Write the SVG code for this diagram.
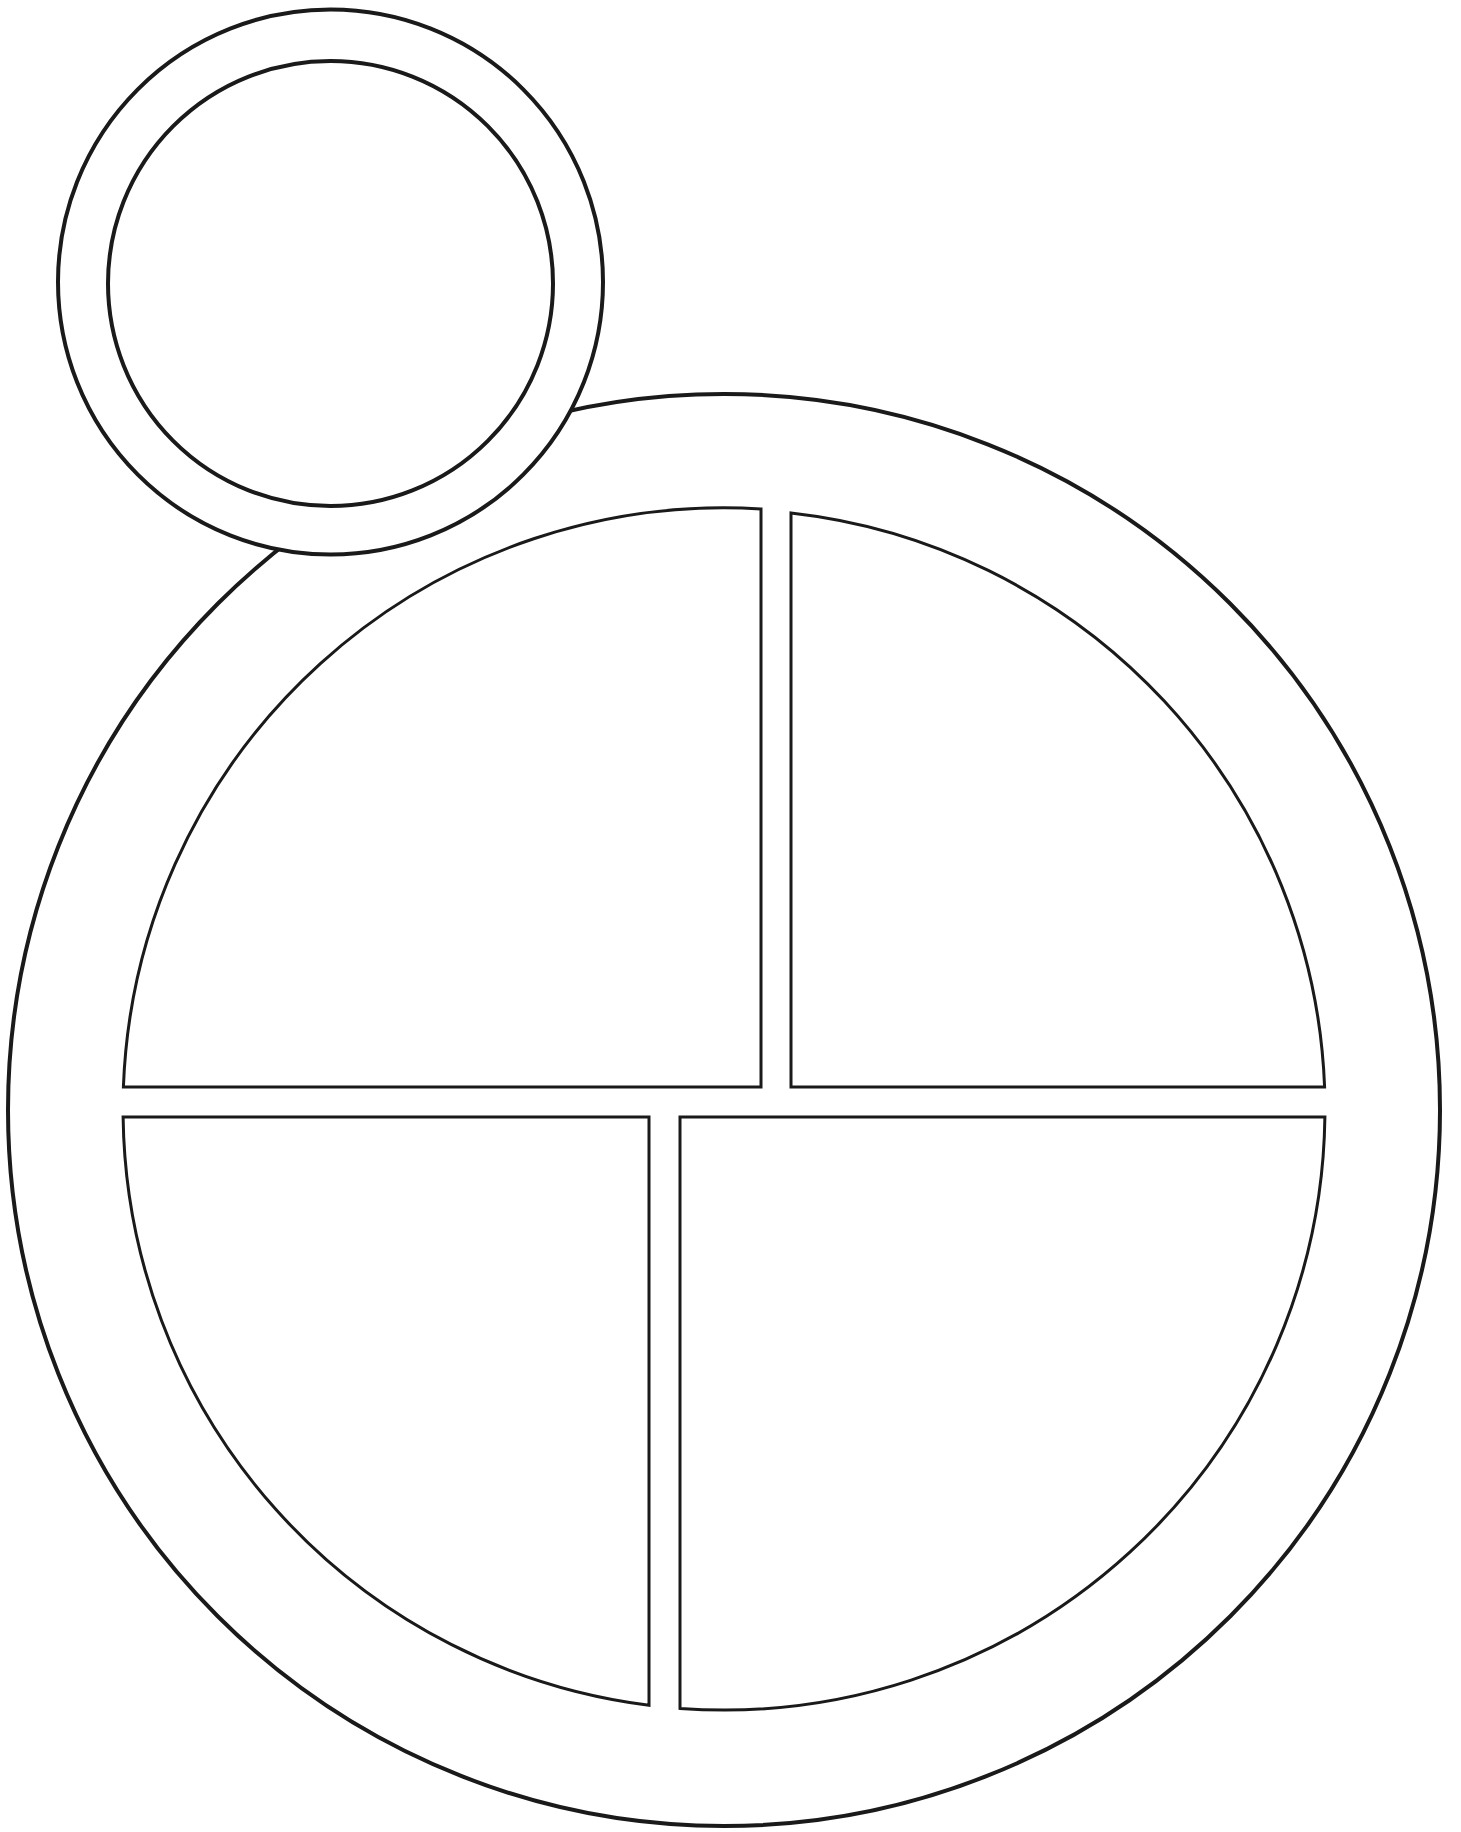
<svg xmlns="http://www.w3.org/2000/svg" width="1461" height="1832" viewBox="0 0 1461 1832">
<style>
.rim{fill:#fff;stroke:#1a1a1a;stroke-width:4}
.sec{fill:#fff;stroke:#1a1a1a;stroke-width:3;stroke-linejoin:miter}
</style>
<rect width="1461" height="1832" fill="#fff"/>
<g id="plate">
<circle class="rim" cx="724" cy="1110" r="716"/>
</g>
<g id="cup">
<circle class="rim" cx="330.5" cy="282" r="272.5"/>
<circle class="rim" cx="330.5" cy="283.5" r="222.5"/>
</g>
<g id="top-left">
<path class="sec" d="M761,509 L761,1087 L123.4,1087 A601,601 0 0 1 761,509 Z"/>
</g>
<g id="top-right">
<path class="sec" d="M791,513 A601,601 0 0 1 1324.6,1087 L791,1087 Z"/>
</g>
<g id="bottom-left">
<path class="sec" d="M123.1,1117 L649,1117 L649,1705.3 A601,601 0 0 1 123.1,1117 Z"/>
</g>
<g id="bottom-right">
<path class="sec" d="M680,1117 L1324.9,1117 A601,601 0 0 1 680,1708.4 Z"/>
</g>
<g id="connectors"></g>
</svg>
